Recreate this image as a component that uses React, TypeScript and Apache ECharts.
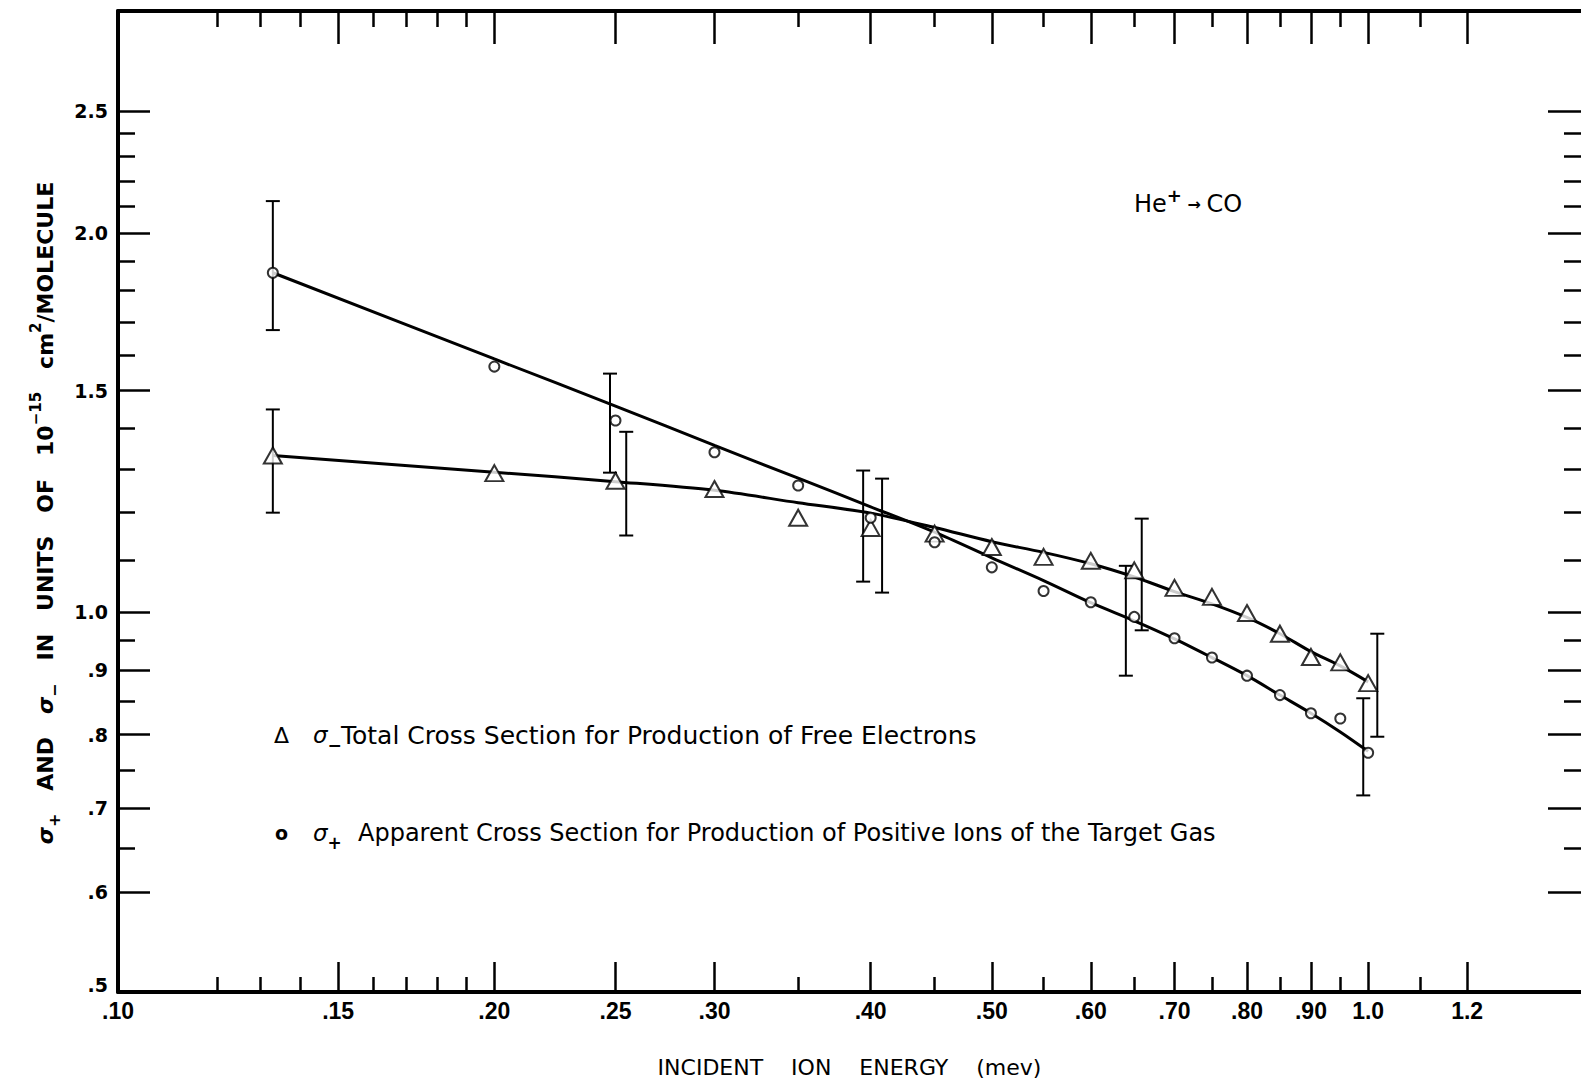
import React, { useEffect, useRef } from 'react';
import * as echarts from 'echarts';

// Incident ion energy (MeV) of the measured points
const energies = [0.133, 0.20, 0.25, 0.30, 0.35, 0.40, 0.45, 0.50, 0.55, 0.60, 0.65, 0.70, 0.75, 0.80, 0.85, 0.90, 0.95, 1.0];
// sigma-minus: total cross section for production of free electrons (triangles)
const sigmaMinus = [1.332, 1.290, 1.272, 1.253, 1.189, 1.167, 1.155, 1.127, 1.107, 1.099, 1.080, 1.046, 1.029, 0.999, 0.962, 0.922, 0.913, 0.879];
// sigma-plus: apparent cross section for production of positive ions (circles)
const sigmaPlus = [1.860, 1.567, 1.420, 1.340, 1.261, 1.189, 1.137, 1.086, 1.040, 1.019, 0.992, 0.954, 0.921, 0.891, 0.860, 0.832, 0.824, 0.774];
// hand-drawn fit curves, read at the same energies
const sigmaMinusFit = [1.332, 1.292, 1.270, 1.250, 1.222, 1.199, 1.168, 1.138, 1.116, 1.093, 1.067, 1.039, 1.016, 0.991, 0.962, 0.931, 0.907, 0.881];
const sigmaPlusFit = [1.860, 1.589, 1.458, 1.357, 1.278, 1.213, 1.158, 1.105, 1.060, 1.018, 0.985, 0.953, 0.921, 0.891, 0.860, 0.832, 0.804, 0.776];

// error bars
const errX = [0.133, 0.133, 0.2475, 0.255, 0.3945, 0.4085, 0.640, 0.659, 0.991, 1.017];
const errLow = [1.675, 1.200, 1.291, 1.151, 1.058, 1.037, 0.891, 0.968, 0.716, 0.797];
const errHigh = [2.120, 1.449, 1.547, 1.391, 1.296, 1.277, 1.089, 1.187, 0.855, 0.962];

// axes
const X_MIN = 0.1;
const X_MAX = 1.48;
const Y_MIN = 0.5;
const Y_MAX = 3.0;
const xLabelValues = [0.10, 0.15, 0.20, 0.25, 0.30, 0.40, 0.50, 0.60, 0.70, 0.80, 0.90, 1.0, 1.2];
const xLabelTexts = ['.10', '.15', '.20', '.25', '.30', '.40', '.50', '.60', '.70', '.80', '.90', '1.0', '1.2'];
const xMajorTicks = [0.15, 0.20, 0.25, 0.30, 0.40, 0.50, 0.60, 0.70, 0.80, 0.90, 1.0, 1.2];
const xMinorTicks = [0.12, 0.13, 0.14, 0.16, 0.17, 0.18, 0.19, 0.35, 0.45, 0.55, 0.65, 0.75, 0.85, 0.95, 1.1];
const yLabelValues = [0.5, 0.6, 0.7, 0.8, 0.9, 1.0, 1.5, 2.0, 2.5];
const yLabelTexts = ['.5', '.6', '.7', '.8', '.9', '1.0', '1.5', '2.0', '2.5'];
const yMajorTicks = [0.6, 0.7, 0.8, 0.9, 1.0, 1.5, 2.0, 2.5];
const yMinorTicks = [0.65, 0.75, 0.85, 0.95, 1.1, 1.2, 1.3, 1.4, 1.6, 1.7, 1.8, 1.9, 2.1, 2.2, 2.3, 2.4];

const SANS = "'DejaVu Sans', 'Noto Sans', sans-serif";
const NARROW = "'Liberation Sans Narrow', 'Liberation Sans', Arial, sans-serif";
const INK = '#000';

function lookup(values: number[], texts: string[], v: number): string {
  const i = values.findIndex((t) => Math.abs(t - v) / t < 1e-4);
  return i >= 0 ? texts[i] : '';
}

function makeAxis(kind: 'x' | 'y', position: string, ticks: number[], len: number, withLine: boolean, withLabels: boolean): any {
  const isX = kind === 'x';
  const base: any = {
    type: 'log',
    logBase: 10,
    min: isX ? X_MIN : Y_MIN,
    max: isX ? X_MAX : Y_MAX,
    position,
    offset: 0,
    splitLine: { show: false },
    minorTick: { show: false },
    minorSplitLine: { show: false },
    axisLine: { show: withLine, onZero: false, lineStyle: { color: INK, width: 4 } },
    axisTick: { show: true, inside: true, length: len, customValues: ticks, lineStyle: { color: INK, width: 2.5 } },
    axisLabel: { show: false },
  };
  if (withLabels) {
    if (isX) {
      base.axisLabel = {
        show: true,
        customValues: xLabelValues,
        margin: 7,
        color: INK,
        fontFamily: NARROW,
        fontWeight: 'bold',
        fontSize: 23,
        formatter: (v: number) => lookup(xLabelValues, xLabelTexts, v),
      };
      base.name = 'INCIDENT    ION    ENERGY    (mev)';
      base.nameLocation = 'middle';
      base.nameGap = 75;
      base.nameTextStyle = { color: INK, fontFamily: SANS, fontSize: 22, verticalAlign: 'middle' };
    } else {
      base.axisLabel = {
        show: true,
        customValues: yLabelValues,
        margin: 10,
        color: INK,
        fontFamily: SANS,
        fontWeight: 'bold',
        fontSize: 19,
        formatter: (v: number) => {
          const t = lookup(yLabelValues, yLabelTexts, v);
          return Math.abs(v - 0.5) < 1e-6 ? '{low|' + t + '}' : t;
        },
        rich: { low: { fontFamily: SANS, fontWeight: 'bold', fontSize: 19, color: INK, padding: [0, 0, 14, 0] } },
      };
    }
  }
  return base;
}

export default function App() {
  const ref = useRef<HTMLDivElement>(null);

  useEffect(() => {
    if (!ref.current) return;
    const chart = echarts.init(ref.current, undefined, { renderer: 'svg' });

    const titleRich = {
      s: { fontSize: 22, fontFamily: SANS, fontStyle: 'italic', fontWeight: 'bold', color: INK, lineHeight: 34, verticalAlign: 'middle' },
      n: { fontSize: 22, fontFamily: SANS, fontWeight: 'bold', color: INK, lineHeight: 34, verticalAlign: 'middle' },
      sup: { fontSize: 15, fontFamily: SANS, fontWeight: 'bold', color: INK, lineHeight: 15, verticalAlign: 'top' },
      sub: { fontSize: 16, fontFamily: SANS, fontWeight: 'bold', color: INK, lineHeight: 16, verticalAlign: 'bottom' },
    };
    const legendRich = {
      s: { fontSize: 23, fontFamily: SANS, fontStyle: 'italic', color: INK, lineHeight: 36, verticalAlign: 'middle' },
      sub: { fontSize: 17, fontFamily: SANS, fontWeight: 'bold', color: INK, lineHeight: 17, verticalAlign: 'bottom' },
    };

    const option: any = {
      animation: false,
      backgroundColor: '#fff',
      grid: { left: 118, right: 0, top: 11, bottom: 91, containLabel: false, outerBoundsMode: 'none' },
      xAxis: [
        makeAxis('x', 'bottom', xMajorTicks, 30, true, true),
        makeAxis('x', 'bottom', xMinorTicks, 15, false, false),
        makeAxis('x', 'top', xMajorTicks, 33, true, false),
        makeAxis('x', 'top', xMinorTicks, 16, false, false),
      ],
      yAxis: [
        makeAxis('y', 'left', yMajorTicks, 32, true, true),
        makeAxis('y', 'left', yMinorTicks, 17, false, false),
        makeAxis('y', 'right', yMajorTicks, 33, false, false),
        makeAxis('y', 'right', yMinorTicks, 17, false, false),
      ],
      series: [
        {
          name: 'σ− fit',
          type: 'line',
          xAxisIndex: 0,
          yAxisIndex: 0,
          data: energies.map((x, i) => [x, sigmaMinusFit[i]]),
          showSymbol: false,
          smooth: 0.3,
          lineStyle: { color: INK, width: 3 },
          z: 2,
        },
        {
          name: 'σ+ fit',
          type: 'line',
          xAxisIndex: 0,
          yAxisIndex: 0,
          data: energies.map((x, i) => [x, sigmaPlusFit[i]]),
          showSymbol: false,
          smooth: 0.3,
          lineStyle: { color: INK, width: 3 },
          z: 2,
        },
        {
          name: 'error bars',
          type: 'custom',
          xAxisIndex: 0,
          yAxisIndex: 0,
          data: errX.map((x, i) => [x, errLow[i], errHigh[i]]),
          encode: { x: 0, y: [1, 2] },
          z: 3,
          renderItem: (params: any, api: any) => {
            const x = api.value(0);
            const p1 = api.coord([x, api.value(1)]);
            const p2 = api.coord([x, api.value(2)]);
            const w = 7;
            const st = { stroke: INK, lineWidth: 2 };
            return {
              type: 'group',
              children: [
                { type: 'line', shape: { x1: p1[0], y1: p1[1], x2: p2[0], y2: p2[1] }, style: st },
                { type: 'line', shape: { x1: p1[0] - w, y1: p1[1], x2: p1[0] + w, y2: p1[1] }, style: st },
                { type: 'line', shape: { x1: p2[0] - w, y1: p2[1], x2: p2[0] + w, y2: p2[1] }, style: st },
              ],
            };
          },
        },
        {
          name: 'σ− Total Cross Section for Production of Free Electrons',
          type: 'scatter',
          xAxisIndex: 0,
          yAxisIndex: 0,
          data: energies.map((x, i) => [x, sigmaMinus[i]]),
          symbol: 'emptyTriangle',
          symbolSize: [18, 16],
          itemStyle: { color: INK, borderColor: INK, borderWidth: 3 },
          z: 5,
        },
        {
          name: 'σ+ Apparent Cross Section for Production of Positive Ions of the Target Gas',
          type: 'scatter',
          xAxisIndex: 0,
          yAxisIndex: 0,
          data: energies.map((x, i) => [x, sigmaPlus[i]]),
          symbol: 'emptyCircle',
          symbolSize: 10,
          itemStyle: { color: INK, borderColor: INK, borderWidth: 2.2 },
          z: 5,
        },
      ],
      graphic: [
        {
          type: 'text',
          x: 45,
          y: 513,
          rotation: Math.PI / 2,
          style: {
            text: '{s|σ}{sub|+}{n|   AND   }{s|σ}{sub|−}{n|   IN   UNITS   OF   10}{sup|−15}{n|   cm}{sup|2}{n|/MOLECULE}',
            align: 'center',
            verticalAlign: 'middle',
            fill: INK,
            rich: titleRich,
          },
        },
        {
          type: 'text',
          x: 1134,
          y: 204,
          style: {
            text: '{n|He}{sup|+}{a| → }{n|CO}',
            align: 'left',
            verticalAlign: 'middle',
            fill: INK,
            rich: {
              n: { fontSize: 24, fontFamily: SANS, color: INK, lineHeight: 36, verticalAlign: 'middle' },
              sup: { fontSize: 18, fontFamily: SANS, fontWeight: 'bold', color: INK, lineHeight: 18, verticalAlign: 'top' },
              a: { fontSize: 16, fontFamily: SANS, fontWeight: 'bold', color: INK, lineHeight: 36, verticalAlign: 'middle' },
            },
          },
        },
        { type: 'text', x: 274, y: 735, style: { text: 'Δ', fontSize: 22, fontFamily: SANS, fill: INK, align: 'left', verticalAlign: 'middle' } },
        { type: 'text', x: 313, y: 735, style: { text: '{s|σ}{sub|−}', align: 'left', verticalAlign: 'middle', fill: INK, rich: legendRich } },
        { type: 'text', x: 341, y: 735, style: { text: 'Total Cross Section for Production of Free Electrons', fontSize: 25, fontFamily: SANS, fill: INK, align: 'left', verticalAlign: 'middle' } },
        { type: 'text', x: 275, y: 833, style: { text: 'o', fontSize: 19, fontFamily: SANS, fontWeight: 'bold', fill: INK, align: 'left', verticalAlign: 'middle' } },
        { type: 'text', x: 313, y: 833, style: { text: '{s|σ}{sub|+}', align: 'left', verticalAlign: 'middle', fill: INK, rich: legendRich } },
        { type: 'text', x: 358, y: 833, style: { text: 'Apparent Cross Section for Production of Positive Ions of the Target Gas', fontSize: 24, fontFamily: SANS, fill: INK, align: 'left', verticalAlign: 'middle' } },
      ],
    };

    chart.setOption(option);
    return () => {
      chart.dispose();
    };
  }, []);

  return (
    <div
      ref={ref}
      style={{ position: 'fixed', left: 0, top: 0, width: 1581, height: 1083, background: '#fff' }}
    />
  );
}
